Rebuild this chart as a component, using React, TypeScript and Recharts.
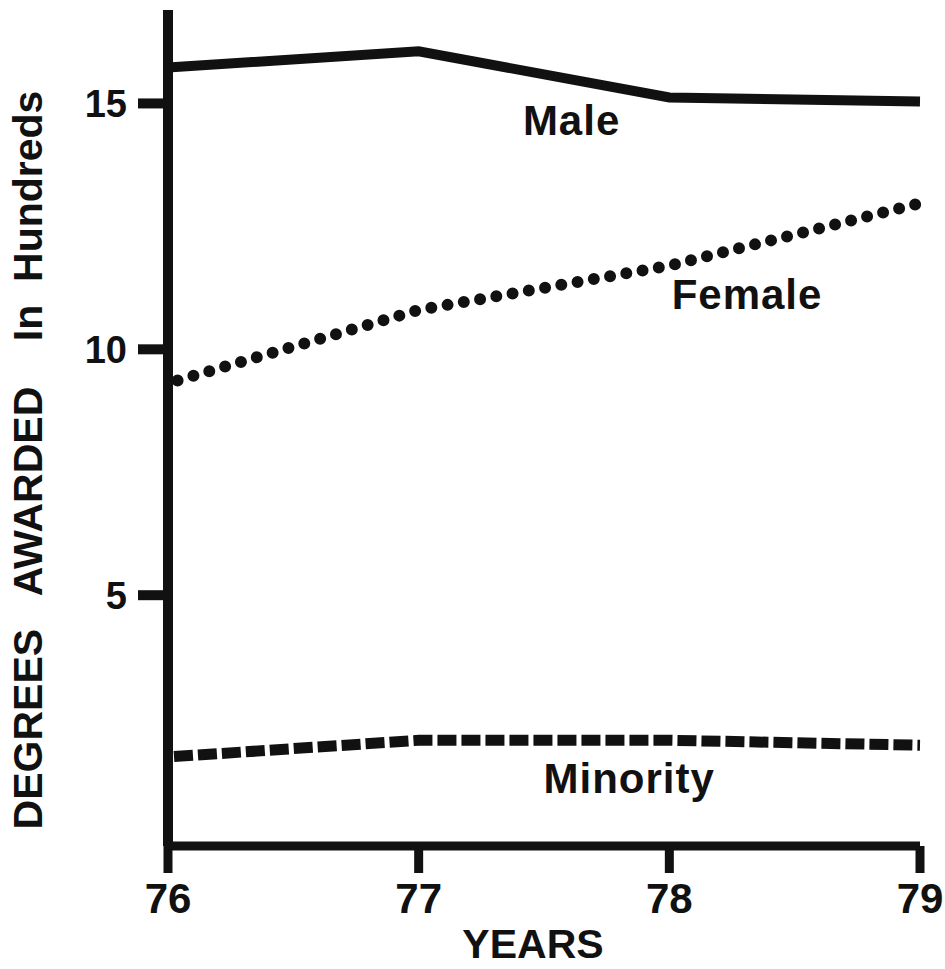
import React from "react";
import { LineChart, Line, XAxis, YAxis, ReferenceDot } from "recharts";

const years = [76, 77, 78, 79];
const male = [15.73, 16.06, 15.12, 15.04];
const female = [9.31, 10.8, 11.7, 12.97];
const minority = [1.71, 2.05, 2.05, 1.95];
const yTicks = [5, 10, 15];

// series names are written on the plot, anchored in data units
const seriesNames = ["Male", "Female", "Minority"];
const nameYear = [77.61, 78.31, 77.84];
const nameValue = [14.66, 11.12, 1.28];

const data = years.map((year, i) => ({
    year,
    male: male[i],
    female: female[i],
    minority: minority[i],
}));

const INK = "#111111";
const FONT = "'Liberation Sans', Arial, sans-serif";

const NameLabel = (props: any) => {
    const { viewBox, value } = props;
    const cx = viewBox.x + (viewBox.width || 0) / 2;
    const cy = viewBox.y + (viewBox.height || 0) / 2;
    return (
        <text
            x={cx}
            y={cy}
            dy="0.36em"
            textAnchor="middle"
            fill={INK}
            fontFamily={FONT}
            fontWeight={700}
            fontSize={42}
            letterSpacing={1}
        >
            {value}
        </text>
    );
};

const YTitle = (props: any) => {
    const { viewBox } = props;
    const x = viewBox.x + 42;
    const y = viewBox.y + viewBox.height / 2 + 32;
    return (
        <text
            x={x}
            y={y}
            transform={`rotate(-90, ${x}, ${y})`}
            textAnchor="middle"
            fill={INK}
            fontFamily={FONT}
            fontWeight={700}
            fontSize={41}
            xmlSpace="preserve"
            style={{ whiteSpace: "pre" }}
        >
            {"DEGREES   AWARDED    In  Hundreds"}
        </text>
    );
};

const XTitle = (props: any) => {
    const { viewBox } = props;
    return (
        <text
            x={viewBox.x + viewBox.width / 2 - 11}
            y={viewBox.y + 112}
            textAnchor="middle"
            fill={INK}
            fontFamily={FONT}
            fontWeight={700}
            fontSize={41}
        >
            YEARS
        </text>
    );
};

export default function App() {
    return (
        <div
            style={{
                position: "absolute",
                left: 0,
                top: 0,
                width: 945,
                height: 969,
                background: "#ffffff",
            }}
        >
            <LineChart
                width={945}
                height={969}
                data={data}
                margin={{ top: 10, right: 25, bottom: 0, left: 0 }}
            >
                <XAxis
                    dataKey="year"
                    type="number"
                    domain={[76, 79]}
                    ticks={years}
                    height={123}
                    axisLine={{ stroke: INK, strokeWidth: 9 }}
                    tickLine={{ stroke: INK, strokeWidth: 9 }}
                    tickSize={27}
                    tickMargin={10}
                    tick={{ fill: INK, fontSize: 42, fontWeight: 700, fontFamily: FONT }}
                    label={{ content: (p: any) => <XTitle {...p} /> }}
                />
                <YAxis
                    type="number"
                    domain={[-0.1, 16.9]}
                    allowDataOverflow
                    ticks={yTicks}
                    width={168}
                    axisLine={{ stroke: INK, strokeWidth: 10 }}
                    tickLine={{ stroke: INK, strokeWidth: 10 }}
                    tickSize={30}
                    tickMargin={11}
                    tick={{ fill: INK, fontSize: 38, fontWeight: 700, fontFamily: FONT }}
                    label={{ content: (p: any) => <YTitle {...p} /> }}
                />
                <Line
                    dataKey="male"
                    type="linear"
                    stroke={INK}
                    strokeWidth={10}
                    strokeLinejoin="miter"
                    dot={false}
                    activeDot={false}
                    isAnimationActive={false}
                />
                <Line
                    dataKey="female"
                    type="linear"
                    stroke={INK}
                    strokeWidth={12}
                    strokeLinecap="round"
                    strokeDasharray="0 16.5"
                    strokeDashoffset={-10}
                    dot={false}
                    activeDot={false}
                    isAnimationActive={false}
                />
                <Line
                    dataKey="minority"
                    type="linear"
                    stroke={INK}
                    strokeWidth={11}
                    strokeDasharray="19 5"
                    strokeDashoffset={-6}
                    dot={false}
                    activeDot={false}
                    isAnimationActive={false}
                />
                {seriesNames.map((name, i) => (
                    <ReferenceDot
                        key={name}
                        x={nameYear[i]}
                        y={nameValue[i]}
                        r={1}
                        fill="none"
                        stroke="none"
                        label={{ value: name, content: (p: any) => <NameLabel {...p} /> }}
                    />
                ))}
            </LineChart>
        </div>
    );
}
